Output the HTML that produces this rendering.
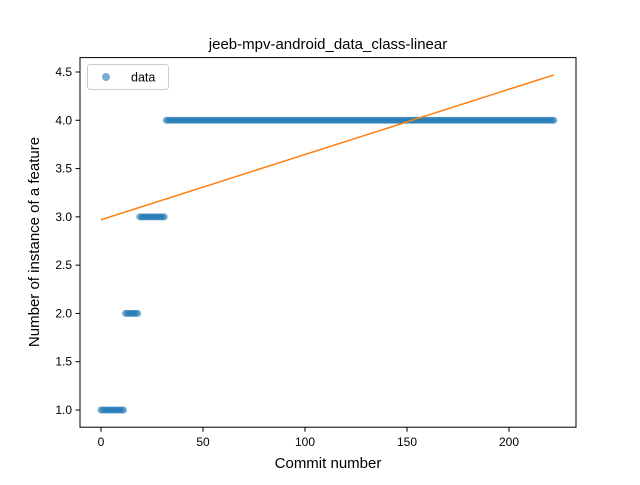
<!DOCTYPE html>
<html><head><meta charset="utf-8"><style>
body{margin:0;background:#fff;}
svg text{font-family:"Liberation Sans","DejaVu Sans",sans-serif;}
</style></head><body>
<svg id="chart" width="640" height="480" xmlns="http://www.w3.org/2000/svg">
<rect width="640" height="480" fill="#fff"/>
<g id="marks"></g>
<rect x="80" y="57.6" width="496" height="369.6" fill="none" stroke="#000" stroke-width="1"/>
<g id="axes"></g>
<text x="328" y="49" font-size="15" text-anchor="middle">jeeb-mpv-android_data_class-linear</text>
<text x="328" y="468" font-size="15" text-anchor="middle">Commit number</text>
<text x="0" y="0" font-size="15" text-anchor="middle" transform="translate(39,242) rotate(-90)">Number of instance of a feature</text>
<g>
<rect x="87.5" y="64.5" width="81" height="25" rx="3" fill="#fff" fill-opacity="0.8" stroke="#ccc"/>
<circle cx="106" cy="77" r="4" fill="#1f77b4" fill-opacity="0.6"/>
<text x="131" y="81.5" font-size="12.5">data</text>
</g>
</svg>
<script>
const ns="http://www.w3.org/2000/svg";
const counts=[12,7,13,191];
const levels=[1,2,3,4];
const xTicks=[0,50,100,150,200];
const yTicks=[1.0,1.5,2.0,2.5,3.0,3.5,4.0,4.5];
const fitX=[0,222];
const fitY=[2.97,4.47];
const dataY=[];
for(let i=0;i<counts.length;i++){for(let k=0;k<counts[i];k++)dataY.push(levels[i]);}
const dataX=dataY.map((v,i)=>i);
const sx=v=>101+v*2.04;
const sy=v=>410-(v-1)*96.57;
const marks=document.getElementById('marks');
dataX.forEach((x,i)=>{
 const c=document.createElementNS(ns,'circle');
 c.setAttribute('cx',sx(x));c.setAttribute('cy',sy(dataY[i]));c.setAttribute('r',3.5);
 c.setAttribute('fill','#1f77b4');c.setAttribute('fill-opacity','0.6');
 
 
 marks.appendChild(c);
});
const l=document.createElementNS(ns,'line');
l.setAttribute('x1',sx(fitX[0]));l.setAttribute('y1',sy(fitY[0]));
l.setAttribute('x2',sx(fitX[1]));l.setAttribute('y2',sy(fitY[1]));
l.setAttribute('stroke','#ff7f0e');l.setAttribute('stroke-width','1.5');


marks.appendChild(l);
const axes=document.getElementById('axes');
xTicks.forEach(t=>{
 const x=sx(t);
 const tk=document.createElementNS(ns,'line');
 tk.setAttribute('x1',x);tk.setAttribute('x2',x);tk.setAttribute('y1',427.2);tk.setAttribute('y2',431.7);tk.setAttribute('stroke','#000');
 
 
 axes.appendChild(tk);
 const tx=document.createElementNS(ns,'text');
 tx.setAttribute('x',x);tx.setAttribute('y',446);tx.setAttribute('font-size','12');tx.setAttribute('text-anchor','middle');
 tx.textContent=t;
 
 
 axes.appendChild(tx);
});
yTicks.forEach(t=>{
 const y=sy(t);
 const tk=document.createElementNS(ns,'line');
 tk.setAttribute('x1',75.5);tk.setAttribute('x2',80);tk.setAttribute('y1',y);tk.setAttribute('y2',y);tk.setAttribute('stroke','#000');
 
 
 axes.appendChild(tk);
 const tx=document.createElementNS(ns,'text');
 tx.setAttribute('x',72);tx.setAttribute('y',y+4);tx.setAttribute('font-size','12');tx.setAttribute('text-anchor','end');
 tx.textContent=t.toFixed(1);
 
 
 axes.appendChild(tx);
});
</script>
</body></html>
